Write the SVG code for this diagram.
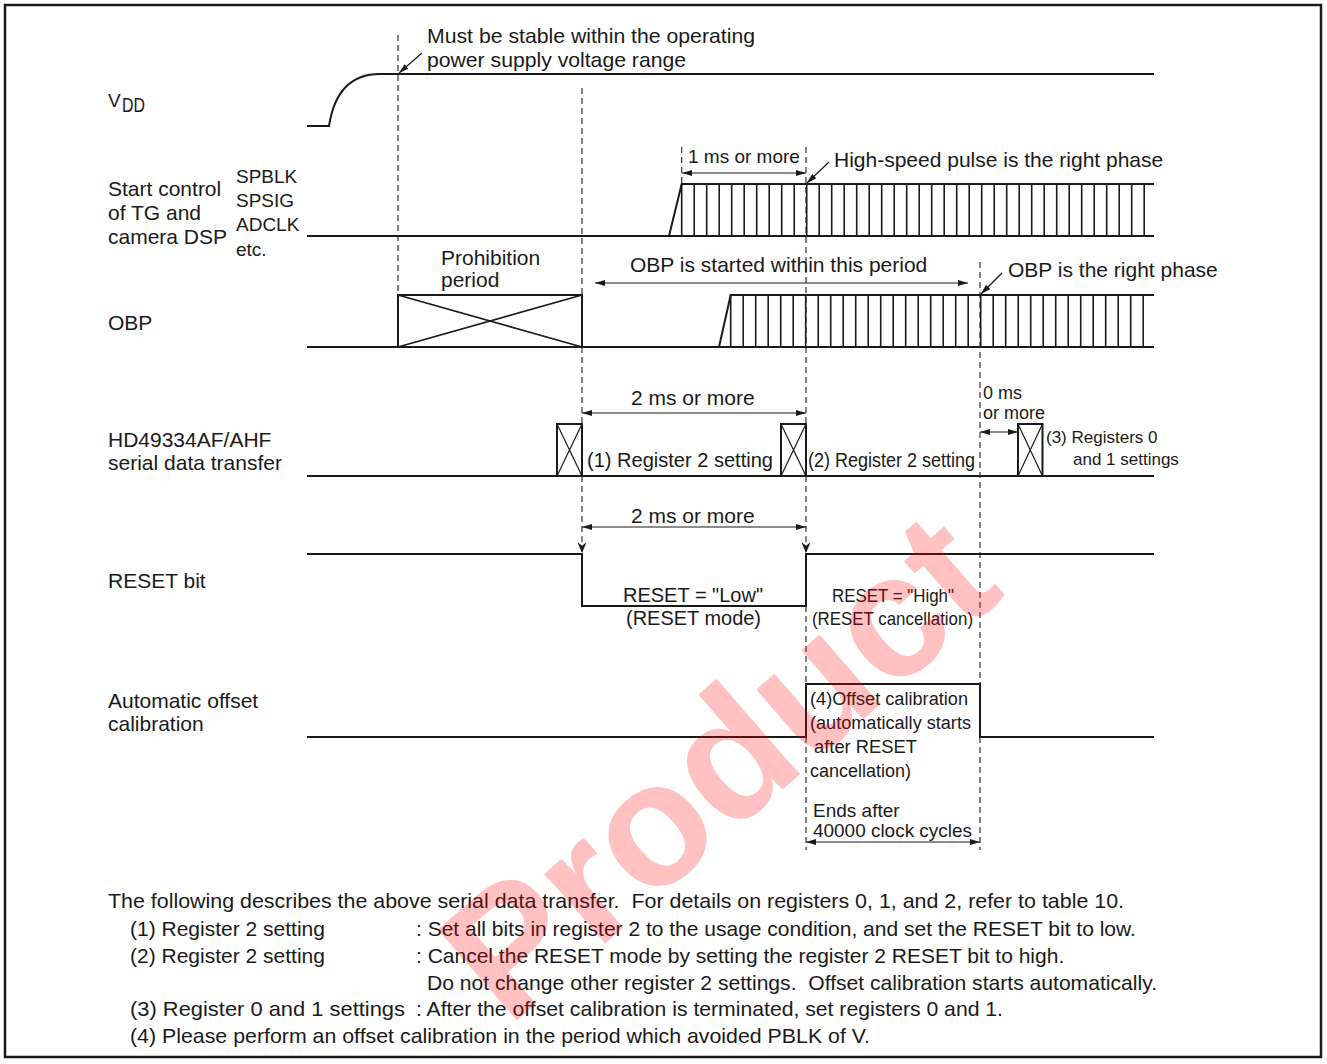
<svg xmlns="http://www.w3.org/2000/svg" width="1327" height="1064" viewBox="0 0 1327 1064">
<style>
.w{stroke:#1a1a1a;stroke-width:2;fill:none}
.p{stroke:#1a1a1a;stroke-width:1.6;fill:none}
.d{stroke:#333;stroke-width:1.2;stroke-dasharray:6 4;fill:none}
.a{stroke:#1a1a1a;stroke-width:1.2;fill:none}
.ab{stroke:#1a1a1a;stroke-width:1.2;fill:none;marker-start:url(#ah);marker-end:url(#ah)}
.ae{stroke:#1a1a1a;stroke-width:1.2;fill:none;marker-end:url(#ah)}
.dn{stroke:#333;stroke-width:1.2;stroke-dasharray:6 4;fill:none;marker-end:url(#dh)}
text{font-family:"Liberation Sans",Arial,Helvetica,sans-serif;font-size:21px;fill:#1a1a1a;white-space:pre}
.s19{font-size:19px}.s20{font-size:20px}.s18{font-size:18px}.s17{font-size:17px}
</style>
<defs>
<marker id="ah" viewBox="0 0 10 6" refX="10" refY="3" markerWidth="10" markerHeight="6" markerUnits="userSpaceOnUse" orient="auto-start-reverse"><path d="M0,0 L10,3 L0,6 z" fill="#1a1a1a"/></marker>
<marker id="dh" viewBox="0 0 12 10" refX="12" refY="5" markerWidth="11" markerHeight="9" markerUnits="userSpaceOnUse" orient="auto"><path d="M0,0 L12,5 L0,10 L4,5 z" fill="#1a1a1a"/></marker>
</defs>
<rect x="5" y="5" width="1316" height="1052" fill="#fff" stroke="#1a1a1a" stroke-width="2.5"/>

<g id="connectors">
<path class="d" d="M398,35 V295"/>
<path class="d" d="M582,88 V295 M582,347 V424"/>
<path class="dn" d="M582,476 V553"/>
<path class="d" d="M681.7,147 V184"/>
<path class="d" d="M806,147 V424"/>
<path class="dn" d="M806,476 V553"/>
<path class="d" d="M806,606 V684 M806,737 V850"/>
<path class="d" d="M980,262 V684 M980,737 V850"/>
<path class="ae" d="M422,53 L399,73"/>
<path class="ae" d="M829,162 L807,183"/>
<path class="ae" d="M1002,273 L981,294"/>
<path class="ab" d="M682,173 H806"/>
<path class="ab" d="M595,283 H968"/>
<path class="ab" d="M582,413 H806"/>
<path class="ab" d="M582,527 H806"/>
<path class="ab" d="M980,432 H1018"/>
<path class="ab" d="M806,842 H980"/>
</g>

<g id="vdd">
<text x="108" y="107" class="s19">V</text><text x="122" y="112" font-size="14" textLength="23" lengthAdjust="spacingAndGlyphs">DD</text>
<path class="w" d="M307,126 H329 C333,100 345,74 380,74 H1154"/>
<text x="427" y="43" textLength="328" lengthAdjust="spacingAndGlyphs">Must be stable within the operating</text>
<text x="427" y="67" textLength="259" lengthAdjust="spacingAndGlyphs">power supply voltage range</text>
</g>

<g id="start-control">
<text x="108" y="196">Start control</text>
<text x="108" y="220">of TG and</text>
<text x="108" y="244">camera DSP</text>
<text x="236" y="183" class="s19">SPBLK</text>
<text x="236" y="207" class="s19">SPSIG</text>
<text x="236" y="231" class="s19">ADCLK</text>
<text x="236" y="256" class="s19">etc.</text>
<path class="w" d="M307,236 H1154 M669,236 L681.7,184 H1154"/>
<path class="p" d="M681.7,184v52 m12.5,-52v52 m12.5,-52v52 m12.5,-52v52 m12.5,-52v52 m12.5,-52v52 m12.5,-52v52 m12.5,-52v52 m12.5,-52v52 m12.5,-52v52 m12.5,-52v52 m12.5,-52v52 m12.5,-52v52 m12.5,-52v52 m12.5,-52v52 m12.5,-52v52 m12.5,-52v52 m12.5,-52v52 m12.5,-52v52 m12.5,-52v52 m12.5,-52v52 m12.5,-52v52 m12.5,-52v52 m12.5,-52v52 m12.5,-52v52 m12.5,-52v52 m12.5,-52v52 m12.5,-52v52 m12.5,-52v52 m12.5,-52v52 m12.5,-52v52 m12.5,-52v52 m12.5,-52v52 m12.5,-52v52 m12.5,-52v52 m12.5,-52v52 m12.5,-52v52 m12.5,-52v52"/>
<text x="688" y="163" class="s19">1 ms or more</text>
<text x="834" y="167">High-speed pulse is the right phase</text>
</g>

<g id="obp">
<text x="108" y="330">OBP</text>
<path class="w" d="M307,347 H1154 M719,347 L730.7,295 H1154"/>
<path class="p" d="M730.7,295v52 m12.5,-52v52 m12.5,-52v52 m12.5,-52v52 m12.5,-52v52 m12.5,-52v52 m12.5,-52v52 m12.5,-52v52 m12.5,-52v52 m12.5,-52v52 m12.5,-52v52 m12.5,-52v52 m12.5,-52v52 m12.5,-52v52 m12.5,-52v52 m12.5,-52v52 m12.5,-52v52 m12.5,-52v52 m12.5,-52v52 m12.5,-52v52 m12.5,-52v52 m12.5,-52v52 m12.5,-52v52 m12.5,-52v52 m12.5,-52v52 m12.5,-52v52 m12.5,-52v52 m12.5,-52v52 m12.5,-52v52 m12.5,-52v52 m12.5,-52v52 m12.5,-52v52 m12.5,-52v52 m12.5,-52v52"/>
<rect class="w" x="398" y="295" width="184" height="52"/>
<path class="p" d="M398,295 L582,347 M398,347 L582,295"/>
<text x="441" y="265">Prohibition</text>
<text x="441" y="287">period</text>
<text x="630" y="272">OBP is started within this period</text>
<text x="1008" y="277">OBP is the right phase</text>
</g>

<g id="serial">
<text x="108" y="447">HD49334AF/AHF</text>
<text x="108" y="470">serial data transfer</text>
<path class="w" d="M307,476 H1154"/>
<rect class="w" x="557" y="424" width="25" height="52"/>
<path class="a" d="M557,424 L582,476 M557,476 L582,424"/>
<rect class="w" x="781" y="424" width="25" height="52"/>
<path class="a" d="M781,424 L806,476 M781,476 L806,424"/>
<rect class="w" x="1018" y="424" width="24.5" height="52"/>
<path class="a" d="M1018,424 L1042.5,476 M1018,476 L1042.5,424"/>
<text x="631" y="405">2 ms or more</text>
<text x="587" y="467" class="s20" textLength="186" lengthAdjust="spacingAndGlyphs">(1) Register 2 setting</text>
<text x="808" y="467" class="s20" textLength="167" lengthAdjust="spacingAndGlyphs">(2) Register 2 setting</text>
<text x="983" y="399" class="s18">0 ms</text>
<text x="983" y="419" class="s18">or more</text>
<text x="1046" y="443" class="s17">(3) Registers 0</text>
<text x="1073" y="465" class="s17">and 1 settings</text>
</g>

<g id="reset-bit">
<text x="108" y="588">RESET bit</text>
<path class="w" d="M307,554 H582 V606 H806 V554 H1154"/>
<text x="631" y="523">2 ms or more</text>
<text x="623" y="602" class="s20" textLength="140" lengthAdjust="spacingAndGlyphs">RESET = "Low"</text>
<text x="626" y="625" class="s20" textLength="135" lengthAdjust="spacingAndGlyphs">(RESET mode)</text>
<text x="832" y="602" class="s19" textLength="122" lengthAdjust="spacingAndGlyphs">RESET = "High"</text>
<text x="812" y="625" class="s19" textLength="161" lengthAdjust="spacingAndGlyphs">(RESET cancellation)</text>
</g>

<g id="calibration">
<text x="108" y="708">Automatic offset</text>
<text x="108" y="731">calibration</text>
<path class="w" d="M307,737 H806 V684 H980 V737 H1154"/>
<text x="810" y="705" class="s18" textLength="158" lengthAdjust="spacingAndGlyphs">(4)Offset calibration</text>
<text x="810" y="729" class="s18" textLength="161" lengthAdjust="spacingAndGlyphs">(automatically starts</text>
<text x="814" y="753" class="s18" textLength="103" lengthAdjust="spacingAndGlyphs">after RESET</text>
<text x="810" y="777" class="s18" textLength="101" lengthAdjust="spacingAndGlyphs">cancellation)</text>
<text x="813" y="817" class="s19">Ends after</text>
<text x="813" y="837" class="s19" textLength="159" lengthAdjust="spacingAndGlyphs">40000 clock cycles</text>
</g>

<g id="notes">
<text x="108" y="908" textLength="1016" lengthAdjust="spacingAndGlyphs">The following describes the above serial data transfer.  For details on registers 0, 1, and 2, refer to table 10.</text>
<text x="130" y="936">(1) Register 2 setting</text>
<text x="416" y="936">: Set all bits in register 2 to the usage condition, and set the RESET bit to low.</text>
<text x="130" y="963">(2) Register 2 setting</text>
<text x="416" y="963">: Cancel the RESET mode by setting the register 2 RESET bit to high.</text>
<text x="427" y="990" textLength="730" lengthAdjust="spacingAndGlyphs">Do not change other register 2 settings.  Offset calibration starts automatically.</text>
<text x="130" y="1016" textLength="275" lengthAdjust="spacingAndGlyphs">(3) Register 0 and 1 settings</text>
<text x="416" y="1016" textLength="587" lengthAdjust="spacingAndGlyphs">: After the offset calibration is terminated, set registers 0 and 1.</text>
<text x="130" y="1043" textLength="740" lengthAdjust="spacingAndGlyphs">(4) Please perform an offset calibration in the period which avoided PBLK of V.</text>
</g>

<g id="watermark">
<text transform="translate(508,1028) rotate(-41)" style="font-size:175px;font-weight:bold;fill:#ff0000;opacity:0.24">Product</text>
</g>
</svg>
